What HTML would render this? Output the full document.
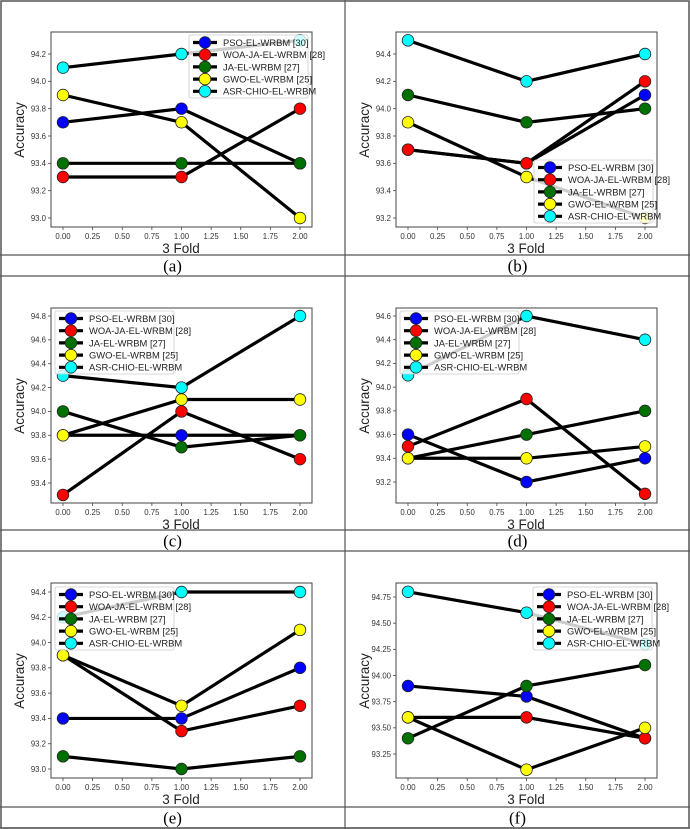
<!DOCTYPE html>
<html><head><meta charset="utf-8">
<style>
html,body{margin:0;padding:0;background:#fff;}
svg{display:block;}
text{font-family:"Liberation Sans","DejaVu Sans",sans-serif;}
.cap{font-family:"Liberation Serif",serif;font-size:17px;}
</style></head>
<body>
<svg id="fig" width="690" height="829" viewBox="0 0 690 829" xmlns="http://www.w3.org/2000/svg"></svg>
<script>
const seriesNames = ["PSO-EL-WRBM [30]","WOA-JA-EL-WRBM [28]","JA-EL-WRBM [27]","GWO-EL-WRBM [25]","ASR-CHIO-EL-WRBM"];
const seriesColors = ["#0000ff","#ff0000","#007000","#ffff00","#00ffff"];
const folds = [0,1,2];
const xTicks = [0,0.25,0.5,0.75,1.0,1.25,1.5,1.75,2.0];
const captions = ["(a)","(b)","(c)","(d)","(e)","(f)"];
// values per panel, order: PSO, WOA, JA, GWO, ASR
const valuesA = [[93.7,93.8,93.4],[93.3,93.3,93.8],[93.4,93.4,93.4],[93.9,93.7,93.0],[94.1,94.2,94.3]];
const valuesB = [[93.7,93.6,94.1],[93.7,93.6,94.2],[94.1,93.9,94.0],[93.9,93.5,93.2],[94.5,94.2,94.4]];
const valuesC = [[93.8,93.8,93.8],[93.3,94.0,93.6],[94.0,93.7,93.8],[93.8,94.1,94.1],[94.3,94.2,94.8]];
const valuesD = [[93.6,93.2,93.4],[93.5,93.9,93.1],[93.4,93.6,93.8],[93.4,93.4,93.5],[94.1,94.6,94.4]];
const valuesE = [[93.4,93.4,93.8],[93.9,93.3,93.5],[93.1,93.0,93.1],[93.9,93.5,94.1],[94.2,94.4,94.4]];
const valuesF = [[93.9,93.8,93.4],[93.6,93.6,93.4],[93.4,93.9,94.1],[93.6,93.1,93.5],[94.8,94.6,94.3]];
const yTicksA = [93.0,93.2,93.4,93.6,93.8,94.0,94.2];
const yTicksB = [93.2,93.4,93.6,93.8,94.0,94.2,94.4];
const yTicksC = [93.4,93.6,93.8,94.0,94.2,94.4,94.6,94.8];
const yTicksD = [93.2,93.4,93.6,93.8,94.0,94.2,94.4,94.6];
const yTicksE = [93.0,93.2,93.4,93.6,93.8,94.0,94.2,94.4];
const yTicksF = [93.25,93.5,93.75,94.0,94.25,94.5,94.75];

const NS="http://www.w3.org/2000/svg";
const svg=document.getElementById('fig');
function mk(tag,attrs,parent){const e=document.createElementNS(NS,tag);for(const k in attrs)e.setAttribute(k,attrs[k]);(parent||svg).appendChild(e);return e;}

const panels=[
 {vals:valuesA,ticks:yTicksA,dec:1,cx:0,cy:0,y1:[94.2,54],y0:[93.0,218],leg:[189,35]},
 {vals:valuesB,ticks:yTicksB,dec:1,cx:345,cy:0,y1:[94.4,54],y0:[93.2,218],leg:[189,160]},
 {vals:valuesC,ticks:yTicksC,dec:1,cx:0,cy:276,y1:[94.8,40],y0:[93.4,207],leg:[55,35]},
 {vals:valuesD,ticks:yTicksD,dec:1,cx:345,cy:276,y1:[94.6,40],y0:[93.2,206],leg:[55,35]},
 {vals:valuesE,ticks:yTicksE,dec:1,cx:0,cy:551,y1:[94.4,41],y0:[93.0,218],leg:[55,36]},
 {vals:valuesF,ticks:yTicksF,dec:2,cx:345,cy:551,y1:[94.75,46],y0:[93.25,203],leg:[188,36]}
];
const rowH=[[0,255,276],[276,530,551],[551,807,828]];

panels.forEach((p,i)=>{
  const g=mk('g',{transform:`translate(${p.cx},${p.cy})`});
  
  
  const L=51,R=312,T=32,B=227;
  const xs=v=>63+(v-0)*(300-63)/2;
  const ys=v=>p.y0[1]+(v-p.y0[0])*(p.y1[1]-p.y0[1])/(p.y1[0]-p.y0[0]);
  const fr=mk('rect',{x:L,y:T,width:R-L,height:B-T,fill:'none',stroke:'#444','stroke-width':1},g);
  
  
  xTicks.forEach(t=>{
    mk('line',{x1:xs(t),x2:xs(t),y1:B,y2:B+3,stroke:'#444','stroke-width':0.8},g);
    const tx=mk('text',{x:xs(t),y:B+12,'font-size':7.8,'text-anchor':'middle',fill:'#333'},g);
    tx.textContent=t.toFixed(2);
    
    
  });
  p.ticks.forEach(t=>{
    mk('line',{x1:L-3,x2:L,y1:ys(t),y2:ys(t),stroke:'#444','stroke-width':0.8},g);
    const tx=mk('text',{x:L-5,y:ys(t)+2.8,'font-size':7.8,'text-anchor':'end',fill:'#333'},g);
    tx.textContent=t.toFixed(p.dec);
    
    
  });
  const xl=mk('text',{x:181,y:253,'font-size':13.5,'text-anchor':'middle',fill:'#222'},g);
  xl.textContent='3 Fold';
  
  
  const yl=mk('text',{x:0,y:0,'font-size':13.5,'text-anchor':'middle',fill:'#222',transform:'translate(24,130) rotate(-90)'},g);
  yl.textContent='Accuracy';
  
  
  p.vals.forEach((s,k)=>{
    const sg=mk('g',{},g);
    
    
    mk('polyline',{points:s.map((v,j)=>xs(folds[j])+','+ys(v)).join(' '),fill:'none',stroke:'#000','stroke-width':3.2},sg);
    s.forEach((v,j)=>{
      const c=mk('circle',{cx:xs(folds[j]),cy:ys(v),r:5.8,fill:seriesColors[k],stroke:'#222','stroke-width':0.8},sg);
      
      
    });
  });
  const lg=mk('g',{transform:`translate(${p.leg[0]},${p.leg[1]})`},g);
  
  
  mk('rect',{x:0,y:0,width:119,height:63,rx:2,fill:'rgba(255,255,255,0.8)',stroke:'#ccc','stroke-width':0.8},lg);
  seriesNames.forEach((n,k)=>{
    const yy=7.5+k*12.2;
    const eg=mk('g',{},lg);
    
    
    mk('line',{x1:4,x2:28,y1:yy,y2:yy,stroke:'#000','stroke-width':3.2},eg);
    mk('circle',{cx:16,cy:yy,r:5.8,fill:seriesColors[k],stroke:'#222','stroke-width':0.8},eg);
    const t=mk('text',{x:34,y:yy+3.4,'font-size':9.4,fill:'#222'},eg);
    t.textContent=n;
  });
});
captions.forEach((c,i)=>{
  const r=rowH[Math.floor(i/2)];
  const t=mk('text',{x:(i%2)*345+172.5,y:(r[1]+r[2])/2+6,'text-anchor':'middle',class:'cap',fill:'#000'});
  t.textContent=c;
  
  
});
const bc='#555';
mk('rect',{x:1,y:1,width:688,height:827,fill:'none',stroke:bc,'stroke-width':1.5});
mk('line',{x1:345,x2:345,y1:0,y2:829,stroke:bc,'stroke-width':1.2});
rowH.forEach(r=>{
  mk('line',{x1:0,x2:690,y1:r[1],y2:r[1],stroke:bc,'stroke-width':1.2});
  mk('line',{x1:0,x2:690,y1:r[2],y2:r[2],stroke:bc,'stroke-width':1.2});
});
</script>
</body></html>
